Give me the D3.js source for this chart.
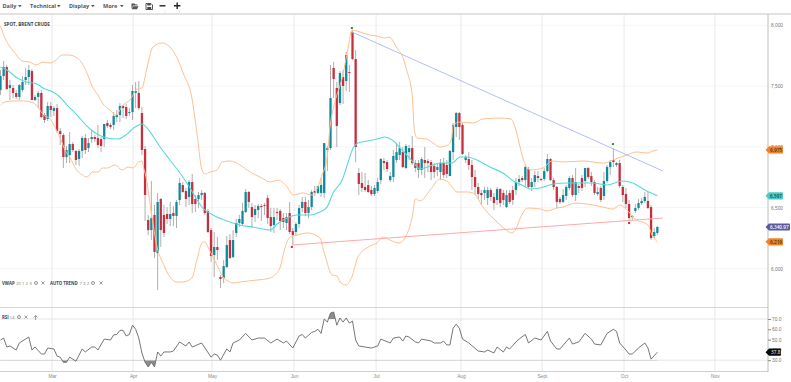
<!DOCTYPE html>
<html>
<head>
<meta charset="utf-8">
<script src="https://d3js.org/d3.v7.min.js"></script>
<style>
    html, body { margin: 0; padding: 0; background: #fff; overflow: hidden; }
    svg { display: block; font-family: 'Open Sans', sans-serif; }
</style>
</head>
<body>
<svg id="chart" width="791" height="382"></svg>
<script>
// one value per trading session
var opens = [7467,7582,7656,7484,7484,7443,7410,7467,7549,7574,7623,7385,7410,7443,7262,7229,7336,7295,7319,7130,7097,6916,6933,7023,6966,6900,6966,7073,6990,7064,7081,7073,7064,7064,7196,7180,7180,7245,7262,7336,7327,7278,7286,7443,7443,7278,6982,6399,6316,6440,6127,6571,6440,6448,6407,6456,6432,6563,6686,6637,6588,6711,6571,6571,6604,6621,6473,6316,6111,6177,5930,5922,6012,6234,6094,6292,6374,6366,6464,6629,6505,6440,6481,6514,6514,6579,6423,6358,6464,6473,6415,6374,6456,6308,6300,6366,6497,6547,6456,6505,6637,6621,6621,6621,6974,6990,7648,7484,7360,7574,7541,7615,7944,7722,6785,6703,6670,6686,6645,6612,6637,6727,6884,6875,6727,6752,6892,6933,6957,6826,6957,6990,6867,6867,6810,6892,6884,6875,6842,6810,6793,6867,6851,6760,6957,7163,7278,7180,6892,6900,6851,6752,6670,6621,6621,6579,6645,6588,6563,6653,6621,6505,6621,6645,6645,6711,6744,6727,6818,6670,6711,6760,6736,6736,6801,6900,6727,6670,6571,6547,6596,6662,6744,6604,6678,6744,6719,6826,6760,6711,6612,6662,6596,6719,6834,6892,6851,6867,6670,6612,6530,6423,6473,6497,6538,6555,6555,6505,6267,6292];
var highs = [7632,7706,7673,7549,7508,7467,7516,7582,7648,7673,7640,7426,7459,7467,7278,7368,7368,7336,7352,7155,7114,7007,7122,7040,6974,6982,7089,7105,7073,7138,7097,7180,7081,7188,7221,7196,7286,7303,7360,7344,7352,7319,7508,7533,7541,7327,7007,6440,6719,6522,6621,6580,6522,6505,6547,6514,6563,6744,6711,6662,6727,6777,6604,6629,6645,6629,6489,6333,6300,6259,5946,6070,6267,6283,6316,6407,6440,6538,6653,6637,6538,6522,6530,6530,6538,6604,6497,6497,6497,6489,6456,6456,6547,6333,6382,6522,6588,6588,6563,6645,6678,6678,6744,7031,7007,7673,7697,7533,7623,7632,7780,7673,7960,7796,6826,6793,6785,6727,6678,6686,6744,6908,6908,6892,6793,6974,7031,7040,6999,7023,7015,7089,6892,6892,6916,6999,6900,6892,6867,6867,6900,6908,6892,6974,7196,7286,7286,7196,6933,6957,6892,6810,6703,6645,6670,6670,6662,6621,6670,6662,6645,6645,6645,6678,6744,6768,6760,6851,6834,6744,6801,6801,6744,6826,6941,6908,6744,6678,6588,6653,6686,6760,6768,6826,6695,6768,6826,6834,6793,6727,6670,6678,6793,6851,6892,6990,6875,6892,6686,6662,6563,6440,6530,6571,6579,6629,6629,6522,6333,6349];
var lows = [7426,7549,7467,7385,7401,7393,7385,7451,7508,7508,7385,7377,7319,7237,7196,7212,7245,7254,7114,7015,6826,6867,6867,6958,6851,6842,6908,6941,6958,7031,7040,6990,6958,6999,7155,7147,7138,7204,7204,7237,7229,7254,7221,7319,7303,6933,6390,6275,6234,6086,5823,6177,6259,6366,6349,6349,6333,6522,6620,6505,6522,6456,6464,6497,6563,6440,6292,6053,5930,6070,5840,5881,6004,6078,6086,6259,6341,6358,6456,6497,6333,6382,6415,6390,6440,6366,6300,6292,6399,6316,6333,6316,6283,6193,6267,6333,6464,6431,6415,6481,6596,6612,6588,6580,6801,6974,7401,6999,7344,7352,7459,7451,7714,6875,6604,6629,6629,6620,6596,6596,6620,6695,6810,6793,6711,6711,6867,6892,6826,6818,6892,6851,6793,6744,6769,6744,6793,6727,6744,6760,6727,6744,6744,6760,6892,7081,7056,6933,6867,6810,6645,6604,6571,6522,6563,6522,6555,6481,6522,6505,6522,6497,6530,6522,6604,6678,6711,6670,6662,6637,6670,6711,6719,6719,6793,6719,6645,6497,6530,6538,6563,6645,6588,6555,6621,6637,6670,6736,6678,6604,6596,6547,6563,6703,6769,6834,6834,6662,6547,6497,6390,6399,6456,6481,6522,6538,6489,6234,6250,6275];
var closes = [7582,7656,7475,7508,7443,7410,7508,7533,7574,7632,7385,7410,7443,7245,7221,7336,7303,7319,7130,7105,6916,6974,7023,6974,6892,6966,7073,6974,7031,7081,7064,7015,7007,7188,7171,7163,7254,7262,7336,7319,7254,7286,7459,7459,7319,6974,6604,6316,6415,6136,6547,6316,6292,6407,6448,6432,6547,6703,6629,6571,6711,6530,6530,6604,6621,6456,6300,6103,6177,6152,5914,6020,6193,6086,6234,6374,6407,6473,6629,6547,6423,6489,6514,6505,6522,6415,6349,6423,6456,6390,6382,6423,6300,6275,6366,6497,6547,6456,6505,6629,6621,6678,6686,7031,6990,7401,7558,7171,7607,7500,7755,7607,7722,6999,6695,6662,6645,6629,6612,6662,6711,6900,6867,6818,6760,6925,6957,6990,6834,7007,6990,6867,6826,6810,6900,6867,6867,6793,6793,6834,6867,6769,6777,6966,7180,7278,7163,6941,6916,6851,6752,6670,6612,6604,6645,6645,6588,6538,6653,6538,6563,6604,6547,6563,6711,6736,6727,6834,6670,6711,6768,6744,6727,6801,6900,6727,6670,6547,6547,6604,6670,6744,6604,6711,6662,6662,6826,6752,6711,6621,6629,6563,6719,6834,6875,6875,6867,6678,6604,6530,6415,6431,6497,6538,6555,6588,6497,6250,6300,6341];

// bollinger upper band, read at these sessions
var upperSessions = [0,1.4,3.3,4.9,6.8,9.4,11.3,13.5,15.7,17.3,19.6,21.5,24,25.9,27.8,29.1,31,32.6,34.8,36.7,39,41.2,43.4,45,46.6,48.5,51.4,53.9,56.2,58.1,60.9,62.5,64.1,65.1,66.7,68.9,70.5,73,76.2,79.4,82.6,85.8,88.3,91.2,93.1,96.2,99.1,101,102.3,103.9,104.8,106.4,108.7,110.6,111.8,114.4,117.6,119.8,122.3,123.6,126.2,128.1,129.4,131,131.6,132.5,135.7,137.6,139.8,142.4,143.6,144,146.2,150.4,153.5,158.9,162.4,163.7,165.4,166.4,168.6,172.6,175.5,179,185.4,191.7,194.9,196.5,199.3,202.5,206,207.6,209];
var upperValues = [7993,7895,7812,7763,7706,7697,7673,7697,7689,7706,7755,7755,7738,7689,7590,7500,7426,7352,7303,7262,7344,7385,7475,7484,7648,7821,7854,7821,7730,7607,7401,7114,6810,6777,6793,6810,6875,6884,6851,6793,6752,6711,6727,6670,6604,6621,6604,6670,6768,6908,7155,7368,7566,7812,7960,7944,7919,7911,7895,7903,7812,7730,7615,7426,7155,7073,7064,7031,6999,7015,7073,7180,7204,7196,7229,7237,7229,7163,6990,6892,6810,6826,6884,6875,6884,6867,6892,6908,6933,6958,6949,6966,6975];

var lowerSessions = [0,1.4,4.2,7.3,10.5,12.1,13.7,15.8,17.3,19,20.5,22.2,23.8,26,27.6,29.2,31.1,32.4,34,36.4,38.7,40.6,42.2,43.9,45,45.7,46,48.2,49.8,51.7,53.9,56.2,58.1,60.9,62.5,64.1,65,66,67.6,69.2,70.8,72.4,74,76.2,78.7,81.6,85.8,87.3,88.9,90.5,92.1,94.3,97.8,101.6,103.2,105.5,107.1,108,110,111.8,113.7,117.6,119.8,121.7,123.9,126.8,129,131,132,133.5,136.7,139.8,142.4,145.3,148.4,150.4,153.5,158,160.5,162.7,164,165.4,167.8,171.7,173.9,177,179,182.8,186.6,191.7,194.9,197.1,199.3,201.9,206,207.3,209];
var lowerValues = [7344,7369,7377,7377,7360,7319,7262,7229,7163,7073,6974,6908,6826,6769,6752,6793,6793,6826,6826,6851,6810,6834,6826,6875,6884,6810,6785,6423,6177,6045,5930,5889,5889,5922,6070,6210,6218,6177,6094,6012,5930,5897,5881,5889,5897,5905,5922,5947,6004,6168,6259,6275,6292,6251,6111,5947,5938,5889,5864,5930,6094,6185,6210,6259,6234,6210,6267,6423,6571,6555,6645,6736,6711,6629,6629,6621,6505,6382,6325,6292,6325,6415,6497,6489,6473,6497,6505,6538,6530,6505,6489,6522,6481,6407,6357,6275,6219];

var middleSessions = [0,2.1,5.3,8.4,11.6,13.5,16.7,18.9,21.2,24.3,27.5,30.7,33.9,37.4,40.2,42.8,45,46.6,48.5,50.8,53.9,57.1,59.7,64.4,67.6,72.1,76.2,80.3,85.8,88,91.2,94.3,98.5,101.6,103.9,105.8,108.7,110.6,112.2,113.7,116.6,119.8,122.3,124.6,127.8,131.3,133.5,136.7,139.8,143.6,146.2,148.4,151.6,155.7,159.9,163.7,165.9,168.6,171.7,175.9,180.3,184.4,188.5,193,197.8,201.2,205,209];
var middleValues = [7656,7632,7566,7533,7517,7484,7451,7410,7344,7262,7171,7105,7073,7064,7105,7163,7188,7155,7089,6999,6892,6785,6686,6497,6440,6390,6357,6341,6316,6366,6415,6440,6440,6464,6505,6620,6727,6875,6990,7031,7048,7064,7081,7056,6974,6875,6818,6842,6867,6867,6916,6916,6892,6834,6785,6711,6686,6653,6662,6695,6703,6703,6703,6686,6719,6703,6645,6597];

var rsiSessions = [0,1,2,3,5,6,9,10,11,13,14,15,17,18,19,20,21,22,24,26,27,29,30,31,33,35,36,37,38,39,40,41,42,43,44,45,46,47,48,49,50,51,52,54,55,57,59,60,61,64,67,68,69,70,72,73,74,76,78,80,82,84,86,88,90,91,93,95,96,97,99,100,101,102,103,104,105,106,107,108,109,110,111,112,113,114,116,118,120,121,124,125,127,128,129,130,132,133,134,137,138,140,141,142,143,144,145,146,147,149,152,154,155,157,158,160,161,162,164,165,167,168,170,172,174,175,177,178,181,182,184,186,188,189,191,193,195,196,197,199,200,201,203,205,206,207,209];
var rsiValues = [49.6,51.5,42.8,43.8,39.9,46.7,52.5,39.9,42.8,36,36,41.8,40.9,34,33,28,28,33,29,40.9,38,42.8,42.8,39.9,50.5,49.6,54.5,55,59,59,53.5,55,64,60,51.5,37,28,23.4,28,23.4,38,34,38,38,38.9,47.7,43.8,47.7,42.8,46.7,33,36,35,30,40.9,38,46.7,49.6,56,49.6,51.5,51.5,46.7,50.5,46.7,48.6,41.8,53.5,55,51.5,57,58,60,56,70,67,75.8,76.8,64,71,67,71,66,68,49.6,43.8,42.8,41.8,43.8,50.5,46.7,51.5,52.5,48.6,53.5,52.5,47.7,46.7,50.5,48.6,46.7,46.7,48.6,44.8,44.8,61,65,61,50.5,46.7,38.9,38,39.9,37,42.8,38,42.8,40.9,47.7,50.5,55,46.7,51.5,49.6,58,48.6,40.9,40.9,51.5,45.7,47.7,56,50.5,45.7,44.8,56,60,58,46.7,39.9,36,36,41.8,46.7,41.8,31,37.8];

var monthNames = ["Mar", "Apr", "May", "Jun", "Jul", "Aug", "Sept", "Oct", "Nov"];
var monthSessions = [16.4, 42.2, 67.3, 93.4, 119.5, 146.5, 172.3, 198.4, 227.3];

var priceTicks = [6000, 6500, 7000, 7500, 8000];
var rsiTicks = [30, 40, 50, 60, 70];

// tags on the price axis
var tagValues = [6975, 6597, 6340.97, 6219];
var tagColors = ["#f58220", "#3fcfcb", "#5b5a9c", "#f58220"];

// trend lines and pivot markers: [session, price]
var downTrend = [[111.8, 7944], [210.8, 6801]];
var upTrend = [[92.7, 6193], [210.8, 6415]];
var highPivots = [[111.8, 7977], [194.9, 7023]];
var lowPivots = [[92.7, 6177], [200, 6374]];

var svg = d3.select("#chart");
var width = 791, height = 382;
var axisX = 768;

var x = d3.scaleLinear().domain([0, 244.2]).range([0.5, axisX]);
var y = d3.scaleLinear().domain([6000, 8000]).range([268.5, 25.2]);
var yRsi = d3.scaleLinear().domain([30, 70]).range([360.2, 319]);

var fmtPrice = d3.format(",.0f");

var defs = svg.append("defs");
defs.append("clipPath").attr("id", "price-clip")
    .append("rect").attr("x", 0).attr("y", 15).attr("width", axisX).attr("height", 292);
// the reference is a scaled-down screenshot, so its marks are a bit soft
defs.append("filter").attr("id", "soft")
    .attr("x", "-2%").attr("y", "-2%").attr("width", "104%").attr("height", "104%")
    .append("feGaussianBlur").attr("stdDeviation", 0.3);

// grid
var grid = svg.append("g").attr("id", "grid");
grid.selectAll("line.h").data(priceTicks).join("line")
    .attr("class", "h")
    .attr("x1", 0).attr("x2", axisX)
    .attr("y1", function(d) { return y(d); }).attr("y2", function(d) { return y(d); })
    .attr("stroke", "#f5f5f5").attr("stroke-width", 1);
grid.selectAll("line.v").data(monthSessions).join("line")
    .attr("class", "v")
    .attr("x1", function(d) { return x(d); }).attr("x2", function(d) { return x(d); })
    .attr("y1", 15).attr("y2", 372)
    .attr("stroke", "#eeeeee").attr("stroke-width", 1.3);
grid.selectAll("line.r").data([30, 70]).join("line")
    .attr("class", "r")
    .attr("x1", 0).attr("x2", axisX)
    .attr("y1", function(d) { return yRsi(d); }).attr("y2", function(d) { return yRsi(d); })
    .attr("stroke", "#e6e6e6").attr("stroke-width", 1);

// frame
svg.append("line").attr("x1", 0).attr("x2", width).attr("y1", 14).attr("y2", 14)
    .attr("stroke", "#c4c4c4").attr("stroke-width", 1);
svg.append("line").attr("x1", 0).attr("x2", axisX).attr("y1", 307.5).attr("y2", 307.5)
    .attr("stroke", "#d6d6d6").attr("stroke-width", 1);
svg.append("line").attr("x1", 0).attr("x2", axisX).attr("y1", 371.5).attr("y2", 371.5)
    .attr("stroke", "#cfcfcf").attr("stroke-width", 1);
svg.append("line").attr("x1", axisX).attr("x2", axisX).attr("y1", 14).attr("y2", 372)
    .attr("stroke", "#bdbdbd").attr("stroke-width", 1);

var plot = svg.append("g").attr("id", "plot").attr("clip-path", "url(#price-clip)")
    .append("g").attr("filter", "url(#soft)");

// candles
var sessions = d3.range(opens.length);
var bodyWidth = 2.3;

plot.append("g").selectAll("line").data(sessions).join("line")
    .attr("x1", function(i) { return x(i); }).attr("x2", function(i) { return x(i); })
    .attr("y1", function(i) { return y(highs[i]); }).attr("y2", function(i) { return y(lows[i]); })
    .attr("stroke", "#aeaeae").attr("stroke-width", 1);

plot.append("g").selectAll("rect").data(sessions).join("rect")
    .attr("x", function(i) { return x(i) - bodyWidth / 2; })
    .attr("width", bodyWidth)
    .attr("y", function(i) { return y(Math.max(opens[i], closes[i])); })
    .attr("height", function(i) { return Math.max(1, Math.abs(y(opens[i]) - y(closes[i]))); })
    .attr("fill", function(i) { return closes[i] >= opens[i] ? "#0f8b9d" : "#c92f3e"; });

// bands
var bandLine = d3.line()
    .x(function(d) { return x(d[0]); })
    .y(function(d) { return y(d[1]); })
    .curve(d3.curveMonotoneX);

plot.append("path").attr("d", bandLine(d3.zip(upperSessions, upperValues)))
    .attr("fill", "none").attr("stroke", "#ffbf8e").attr("stroke-width", 1);
plot.append("path").attr("d", bandLine(d3.zip(lowerSessions, lowerValues)))
    .attr("fill", "none").attr("stroke", "#ffbf8e").attr("stroke-width", 1);
plot.append("path").attr("d", bandLine(d3.zip(middleSessions, middleValues)))
    .attr("fill", "none").attr("stroke", "#55dbd5").attr("stroke-width", 1.1);

// trend lines
var trendLine = d3.line().x(function(d) { return x(d[0]); }).y(function(d) { return y(d[1]); });
plot.append("path").attr("d", trendLine(downTrend)).attr("fill", "none")
    .attr("stroke", "#b0bff6").attr("stroke-width", 1);
plot.append("path").attr("d", trendLine(upTrend)).attr("fill", "none")
    .attr("stroke", "#ffa9a9").attr("stroke-width", 1);

plot.selectAll("rect.hp").data(highPivots).join("rect")
    .attr("class", "hp")
    .attr("x", function(d) { return x(d[0]) - 1; }).attr("y", function(d) { return y(d[1]) - 1; })
    .attr("width", 2).attr("height", 2).attr("fill", "#1f9a1f");
plot.selectAll("rect.lp").data(lowPivots).join("rect")
    .attr("class", "lp")
    .attr("x", function(d) { return x(d[0]) - 1; }).attr("y", function(d) { return y(d[1]) - 1; })
    .attr("width", 2).attr("height", 2).attr("fill", "#e5262b");

// rsi pane
var rsiData = d3.zip(rsiSessions, rsiValues);
var rsiLine = d3.line()
    .x(function(d) { return x(d[0]); })
    .y(function(d) { return yRsi(d[1]); });

defs.append("clipPath").attr("id", "over-clip")
    .append("rect").attr("x", 0).attr("y", 300).attr("width", axisX).attr("height", yRsi(70) - 300);
defs.append("clipPath").attr("id", "under-clip")
    .append("rect").attr("x", 0).attr("y", yRsi(30)).attr("width", axisX).attr("height", 12);

svg.append("path")
    .attr("d", d3.area().x(function(d) { return x(d[0]); }).y0(yRsi(70)).y1(function(d) { return yRsi(d[1]); })(rsiData))
    .attr("clip-path", "url(#over-clip)").attr("fill", "#8c8c8c");
svg.append("path")
    .attr("d", d3.area().x(function(d) { return x(d[0]); }).y0(yRsi(30)).y1(function(d) { return yRsi(d[1]); })(rsiData))
    .attr("clip-path", "url(#under-clip)").attr("fill", "#8c8c8c");
svg.append("path").attr("d", rsiLine(rsiData))
    .attr("fill", "none").attr("stroke", "#666").attr("stroke-width", 0.9);

// axes
var priceAxis = d3.axisRight(y).tickValues(priceTicks).tickFormat(fmtPrice).tickSize(0).tickPadding(3);
svg.append("g").attr("transform", "translate(" + axisX + ",0)").call(priceAxis)
    .call(function(g) { g.select(".domain").remove(); })
    .selectAll("text").style("font-size", "4.8px").attr("fill", "#777");

var rsiAxis = d3.axisRight(yRsi).tickValues(rsiTicks).tickFormat(d3.format(".1f")).tickSize(3).tickPadding(1);
var rsiG = svg.append("g").attr("transform", "translate(" + axisX + ",0)").call(rsiAxis)
    .call(function(g) { g.select(".domain").remove(); });
rsiG.selectAll("text").style("font-size", "4.8px").attr("fill", "#777");
rsiG.selectAll("line").attr("stroke", "#888");

var monthAxis = d3.axisBottom(x).tickValues(monthSessions)
    .tickFormat(function(d, i) { return monthNames[i]; }).tickSize(0).tickPadding(3);
svg.append("g").attr("transform", "translate(0,371.5)").call(monthAxis)
    .call(function(g) { g.select(".domain").remove(); })
    .selectAll("text").style("font-size", "4.8px").attr("fill", "#888");

// value tags
function tagPath(cy, left, right) {
    var h = 3.6;
    var p = d3.path();
    p.moveTo(left - 3.5, cy);
    p.lineTo(left, cy - h);
    p.lineTo(right - 1, cy - h);
    p.quadraticCurveTo(right, cy - h, right, cy - h + 1);
    p.lineTo(right, cy + h - 1);
    p.quadraticCurveTo(right, cy + h, right - 1, cy + h);
    p.lineTo(left, cy + h);
    p.closePath();
    return p.toString();
}

tagValues.forEach(function(v, i) {
    var label = v % 1 ? d3.format(",.2f")(v) : fmtPrice(v);
    var right = v % 1 ? 790 : 783;
    svg.append("path").attr("d", tagPath(y(v), 769, right)).attr("fill", tagColors[i]);
    svg.append("text").attr("x", 770).attr("y", y(v) + 1.7)
        .attr("fill", i === 2 ? "#fff" : "#3a3a3a")
        .style("font-size", "4.7px").style("font-weight", 600)
        .text(label);
});

var rsiLast = rsiValues[rsiValues.length - 1];
svg.append("path").attr("d", tagPath(yRsi(rsiLast), 769, 781)).attr("fill", "#0a0a0a");
svg.append("text").attr("x", 771).attr("y", yRsi(rsiLast) + 1.7).attr("fill", "#fff")
    .style("font-size", "4.8px").text(rsiLast.toFixed(1));

// labels
function label(px, py, txt, bold, color, size) {
    return svg.append("text").attr("x", px).attr("y", py)
        .attr("fill", color || "#444")
        .style("font-size", (size || 4.6) + "px")
        .style("font-weight", bold ? 700 : 400)
        .text(txt);
}

label(4, 26, "SPOT, BRENT CRUDE", true);
label(2, 284.5, "VWAP", true, "#444", 4.3);
label(16, 284.5, "20 1 2 3", false, "#777", 4.3);
label(50, 284.5, "AUTO TREND", true, "#444", 4.3);
label(79.5, 284.5, "7 3 2", false, "#777", 4.3);
label(2, 318.5, "RSI", true, "#444", 4.3);
label(9.5, 318.5, "14", false, "#777", 4.3);

// small gear and close icons next to the indicator labels
var iconRows = [[36, 43, 283], [93, 101, 283], [19, 26, 317]];
iconRows.forEach(function(r) {
    svg.append("circle").attr("cx", r[0]).attr("cy", r[2]).attr("r", 1.5)
        .attr("fill", "none").attr("stroke", "#777").attr("stroke-width", 0.8);
    svg.append("path").attr("d", "M" + (r[1] - 1.5) + "," + (r[2] - 1.5) + "l3,3m0,-3l-3,3")
        .attr("stroke", "#777").attr("stroke-width", 0.7);
});
svg.append("path").attr("d", "M35.5,320V315.5M33.5,317.5l2,-2l2,2")
    .attr("fill", "none").attr("stroke", "#777").attr("stroke-width", 0.7);

// toolbar
var menus = ["Daily", "Technical", "Display", "More"];
var menuX = [2.5, 30, 69, 103];
var caretX = [18, 57, 91, 120];
menus.forEach(function(m, i) {
    svg.append("text").attr("x", menuX[i]).attr("y", 8)
        .attr("fill", "#555")
        .style("font-size", "5.5px").style("font-weight", 700)
        .text(m);
    svg.append("path").attr("d", "M" + caretX[i] + ",5l3.6,0l-1.8,2.2z").attr("fill", "#555");
});

svg.append("path").attr("d", "M131.5,3.5h3l1,1h2v1h-4.5l-1.5,3.5z M133,6.2h5.5l-1.5,3h-5.2z").attr("fill", "#555");
svg.append("path").attr("d", "M146,3.5h5l1.5,1.5v4.5h-6.5z").attr("fill", "none").attr("stroke", "#444").attr("stroke-width", 0.9);
svg.append("path").attr("d", "M147.3,3.7h3.4v1.7h-3.4z M147.3,7h3.9v2.4h-3.9z").attr("fill", "#444");
svg.append("path").attr("d", "M159.5,5.8h6").attr("stroke", "#222").attr("stroke-width", 1.4);
svg.append("path").attr("d", "M174,5.8h6.4M177.2,2.5v6.5").attr("stroke", "#222").attr("stroke-width", 1.4);
svg.append("line").attr("x1", 165).attr("x2", 165).attr("y1", 10).attr("y2", 14).attr("stroke", "#e6e6e6").attr("stroke-width", 0.8);
svg.append("line").attr("x1", 179.5).attr("x2", 179.5).attr("y1", 10).attr("y2", 14).attr("stroke", "#e6e6e6").attr("stroke-width", 0.8);
</script>
</body>
</html>
